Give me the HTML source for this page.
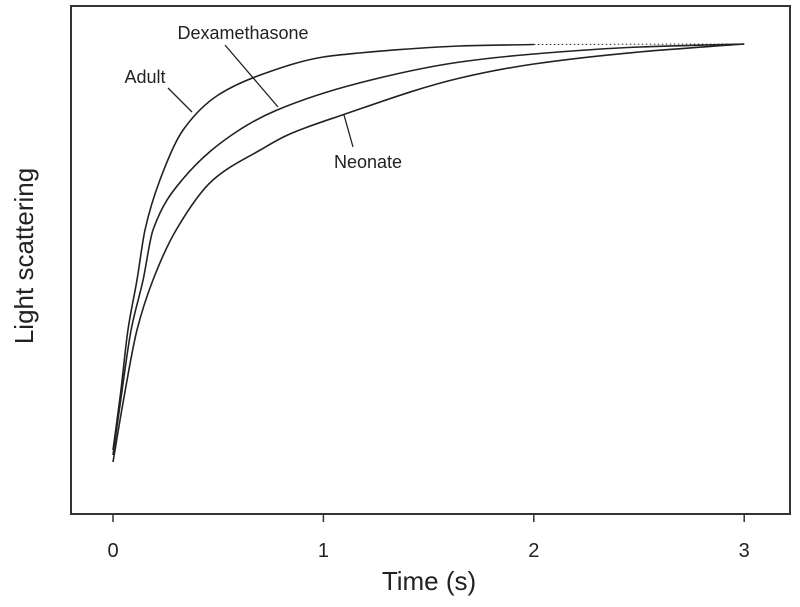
<!DOCTYPE html>
<html><head><meta charset="utf-8"><style>
body{margin:0;background:#fff;}
svg{display:block;font-family:"Liberation Sans",Arial,sans-serif;}
</style></head><body>
<svg id="chart" width="800" height="607">
<rect x="71" y="6" width="719" height="508" fill="none" stroke="#333" stroke-width="2"/>
<g id="ticks"></g>
<g id="series"></g>
<text x="429" y="590" text-anchor="middle" font-size="26" fill="#222">Time (s)</text>
<text transform="translate(33,256) rotate(-90)" text-anchor="middle" font-size="26" fill="#222">Light scattering</text>
<text x="243" y="39" text-anchor="middle" font-size="18" fill="#222">Dexamethasone</text>
<text x="145" y="83" text-anchor="middle" font-size="18" fill="#222">Adult</text>
<text x="368" y="168" text-anchor="middle" font-size="18" fill="#222">Neonate</text>
<line x1="168" y1="88" x2="192" y2="112" stroke="#222" stroke-width="1.3"/>
<line x1="225" y1="45" x2="278" y2="107" stroke="#222" stroke-width="1.3"/>
<line x1="344" y1="115" x2="353" y2="147" stroke="#222" stroke-width="1.3"/>
</svg>
<script>
const xTicks=[0,1,2,3];
const adultT=[0,0.035,0.071,0.114,0.152,0.223,0.333,0.5,0.7,1.0,1.17,1.4,1.65,2.0];
const adultV=[64,119,184,234,284,334,384,419,439,457,461,465,468,469.5];
const adultTailT=[2.0,3.0];
const adultTailV=[469.5,470];
const dexaT=[0,0.04,0.086,0.143,0.19,0.328,0.6,0.78,1.17,1.65,2.0,2.5,3.0];
const dexaV=[59,119,184,234,284,334,384,404,431,452,460,467,470];
const neoT=[0,0.05,0.114,0.19,0.3,0.475,0.7,0.83,1.09,1.65,2.0,2.5,3.0];
const neoV=[52,114,184,234,284,334,364,379,399,436,450,462,470];

const NS="http://www.w3.org/2000/svg";
function xs(t){return 113+t*210.4;}
function ys(v){return 514-v;}
const tg=document.getElementById('ticks');
xTicks.forEach(t=>{
  const l=document.createElementNS(NS,'line');
  l.setAttribute('x1',xs(t));l.setAttribute('x2',xs(t));
  l.setAttribute('y1',514);l.setAttribute('y2',522);
  l.setAttribute('stroke','#333');l.setAttribute('stroke-width','1.5');
  
  
  tg.appendChild(l);
  const tx=document.createElementNS(NS,'text');
  tx.setAttribute('x',xs(t));tx.setAttribute('y',557);
  tx.setAttribute('text-anchor','middle');tx.setAttribute('font-size','20');tx.setAttribute('fill','#222');
  tx.textContent=t;
  
  
  tg.appendChild(tx);
});
function pathD(T,V){
  const x=T.map(xs), y=V.map(ys), n=x.length;
  const d=[],m=[];
  for(let i=0;i<n-1;i++)d.push((y[i+1]-y[i])/(x[i+1]-x[i]));
  m[0]=d[0];m[n-1]=d[n-2];
  for(let i=1;i<n-1;i++){
    if(d[i-1]*d[i]<=0)m[i]=0;
    else{const w1=2*(x[i+1]-x[i])+(x[i]-x[i-1]),w2=(x[i+1]-x[i])+2*(x[i]-x[i-1]);
      m[i]=(w1+w2)/(w1/d[i-1]+w2/d[i]);}
  }
  let s='M'+x[0]+','+y[0];
  for(let i=0;i<n-1;i++){
    const h=(x[i+1]-x[i])/3;
    s+=' C'+(x[i]+h)+','+(y[i]+m[i]*h)+' '+(x[i+1]-h)+','+(y[i+1]-m[i+1]*h)+' '+x[i+1]+','+y[i+1];
  }
  return s;
}
const sg=document.getElementById('series');
function add(T,V,name,dash){
  const p=document.createElementNS(NS,'path');
  p.setAttribute('d',pathD(T,V));
  p.setAttribute('fill','none');p.setAttribute('stroke','#222');p.setAttribute('stroke-width',dash?'1':'1.6');
  if(dash)p.setAttribute('stroke-dasharray','1.5,2.5');
  
  
  sg.appendChild(p);
}
add(adultT,adultV,'adult-curve');
add(adultTailT,adultTailV,'adult-curve-dotted',true);
add(dexaT,dexaV,'dexamethasone-curve');
add(neoT,neoV,'neonate-curve');
</script>
</body></html>
